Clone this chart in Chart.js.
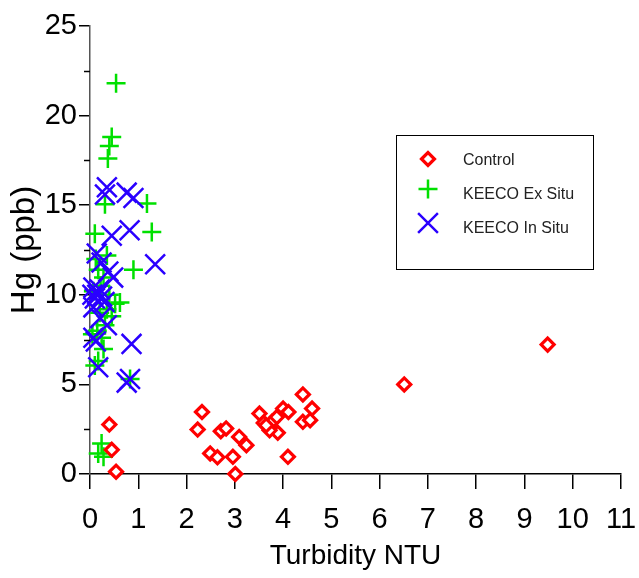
<!DOCTYPE html>
<html>
<head>
<meta charset="utf-8">
<script src="https://cdn.jsdelivr.net/npm/chart.js@4.4.1/dist/chart.umd.min.js"></script>
<style>
  html, body { margin: 0; padding: 0; background: #fff; }
  #wrap { width: 639px; height: 578px; }
</style>
</head>
<body>
<div id="wrap"><canvas id="chart" width="639" height="578"></canvas></div>
<script>
// Control (red diamonds)
const controlX = [0.40, 0.45, 0.54, 2.32, 2.23, 2.49, 2.64, 2.71, 2.82, 3.09, 3.24, 2.96, 3.01,
    3.51, 3.60, 3.68, 3.77, 3.87, 3.89, 3.72, 3.65, 4.00, 4.11, 4.10, 4.41, 4.60, 4.41, 4.56, 6.51, 9.48];
const controlY = [2.76, 1.35, 0.13, 3.46, 2.48, 1.15, 0.93, 2.39, 2.54, 2.07, 1.61, 0.96, 0.00,
    3.37, 2.85, 2.63, 2.91, 3.18, 2.30, 2.44, 2.72, 3.65, 3.46, 0.96, 4.44, 3.65, 2.91, 3.00, 5.00, 7.22];

// KEECO Ex Situ (green plus)
const exSituX = [0.54, 0.45, 0.40, 0.37, 1.18, 0.31, 0.10, 1.28, 0.90, 0.35, 0.17, 0.28, 0.62, 0.07,
    0.52, 0.45, 0.31, 0.24, 0.28, 0.17, 0.10, 0.83, 0.24, 0.17, 0.28, 0.20, 0.35, 0.15, 0.05, 0.40, 0.22, 0.12];
const exSituY = [21.8, 18.8, 18.3, 17.6, 15.1, 15.05, 13.4, 13.5, 11.4, 12.2, 11.4, 10.96, 9.57, 10.2,
    9.5, 8.8, 8.3, 7.6, 6.98, 6.3, 6.05, 5.3, 1.7, 1.15, 0.96, 9.0, 9.2, 8.0, 7.8, 10.0, 10.5, 12.0];

// KEECO In Situ (blue X)
const inSituX = [0.35, 0.31, 0.76, 0.90, 0.45, 0.82, 1.35, 0.14, 0.38, 0.24, 0.48, 0.07, 0.07, 0.21,
    0.35, 0.07, 0.86, 0.17, 0.83, 0.76, 0.15, 0.25, 0.30, 0.10, 0.20, 0.05, 0.12];
const inSituY = [16.0, 15.6, 15.7, 15.4, 13.3, 13.6, 11.7, 12.3, 11.3, 11.8, 10.96, 10.4, 9.3, 8.7,
    8.3, 7.6, 7.26, 5.96, 5.3, 5.1, 10.0, 9.9, 9.6, 9.8, 10.3, 10.0, 7.4];

const xTicks = [0, 1, 2, 3, 4, 5, 6, 7, 8, 9, 10, 11];
const yTicks = [0, 5, 10, 15, 20, 25];
const yMinorTicks = [2.5, 7.5, 12.5, 17.5, 22.5];

const labels = ['Control', 'KEECO Ex Situ', 'KEECO In Situ'];

function toPoints(xs, ys) {
    return xs.map((x, i) => ({ x: x, y: ys[i] }));
}

const FONT = 'Arial, "Liberation Sans", sans-serif';

// minor ticks on the y axis
const minorTicks = {
    id: 'minorTicks',
    afterDraw(chart) {
        const ctx = chart.ctx;
        const ys = chart.scales.y;
        ctx.save();
        ctx.strokeStyle = '#000';
        ctx.lineWidth = 1.5;
        yMinorTicks.forEach(v => {
            const py = Math.round(ys.getPixelForValue(v)) + 0.5;
            ctx.beginPath();
            ctx.moveTo(ys.right - 6, py);
            ctx.lineTo(ys.right, py);
            ctx.stroke();
        });
        ctx.restore();
    }
};

// boxed legend inside plot
const boxLegend = {
    id: 'boxLegend',
    afterDraw(chart) {
        const ctx = chart.ctx;
        const bx = 396, by = 135, bw = 197, bh = 134;
        ctx.save();
        ctx.fillStyle = '#fff';
        ctx.fillRect(bx, by, bw, bh);
        ctx.strokeStyle = '#000';
        ctx.lineWidth = 1;
        ctx.strokeRect(bx + 0.5, by + 0.5, bw, bh);
        const markerRows = [159, 189, 223];
        const textRows = [161, 195, 229];
        chart.data.datasets.forEach((ds, i) => {
            ctx.save();
            ctx.strokeStyle = ds.borderColor;
            ctx.fillStyle = ds.backgroundColor;
            ctx.lineWidth = ds.borderWidth;
            Chart.helpers.drawPoint(ctx, {
                pointStyle: ds.pointStyle,
                radius: ds.pointRadius,
                rotation: 0,
                borderWidth: ds.borderWidth
            }, 428, markerRows[i]);
            ctx.restore();
            ctx.fillStyle = '#222';
            ctx.font = '16px ' + FONT;
            ctx.textBaseline = 'middle';
            ctx.fillText(ds.label, 463, textRows[i]);
        });
        ctx.restore();
    }
};

const ctx = document.getElementById('chart').getContext('2d');
new Chart(ctx, {
    type: 'scatter',
    data: {
        datasets: [
            {
                label: labels[0],
                data: toPoints(controlX, controlY),
                pointStyle: 'rectRot',
                pointRadius: 6.5,
                borderWidth: 3.2,
                borderColor: '#ff0000',
                backgroundColor: '#ffffff',
                order: 0,
                clip: false
            },
            {
                label: labels[1],
                data: toPoints(exSituX, exSituY),
                pointStyle: 'cross',
                pointRadius: 9.5,
                borderWidth: 2.5,
                borderColor: '#00e000',
                backgroundColor: '#00e000',
                order: 2,
                clip: false
            },
            {
                label: labels[2],
                data: toPoints(inSituX, inSituY),
                pointStyle: 'crossRot',
                pointRadius: 14,
                borderWidth: 2.5,
                borderColor: '#2a00ff',
                backgroundColor: '#2a00ff',
                order: 1,
                clip: false
            }
        ]
    },
    options: {
        responsive: false,
        animation: false,
        events: [],
        layout: { padding: { top: 26, right: 18, left: 0, bottom: 0 } },
        plugins: {
            legend: { display: false },
            tooltip: { enabled: false }
        },
        scales: {
            x: {
                type: 'linear',
                min: 0,
                max: 11,
                afterBuildTicks: (scale) => { scale.ticks = xTicks.map(v => ({ value: v })); },
                afterFit: (scale) => { scale.height = 104; scale.paddingRight = 0; scale.paddingLeft = 0; },
                border: { display: true, color: '#000', width: 1.5 },
                grid: { display: true, drawOnChartArea: false, drawTicks: true, tickLength: 15, color: '#000', lineWidth: 1.5 },
                ticks: { color: '#000', padding: 14, maxRotation: 0, font: { family: FONT, size: 29 } },
                title: { display: true, text: 'Turbidity NTU', color: '#000', padding: { top: 0, bottom: 5 }, font: { family: FONT, size: 28 } }
            },
            y: {
                type: 'linear',
                min: 0,
                max: 25,
                afterBuildTicks: (scale) => { scale.ticks = yTicks.map(v => ({ value: v })); },
                afterFit: (scale) => { scale.width = 90; },
                border: { display: true, color: '#555', width: 1.5 },
                grid: { display: true, drawOnChartArea: false, drawTicks: true, tickLength: 11, color: '#000', lineWidth: 1.5 },
                ticks: { color: '#000', padding: 2, font: { family: FONT, size: 29 } },
                title: { display: true, text: 'Hg (ppb)', color: '#000', padding: { top: 5, bottom: 0 }, font: { family: FONT, size: 33 } }
            }
        }
    },
    plugins: [minorTicks, boxLegend]
});
</script>
</body>
</html>
